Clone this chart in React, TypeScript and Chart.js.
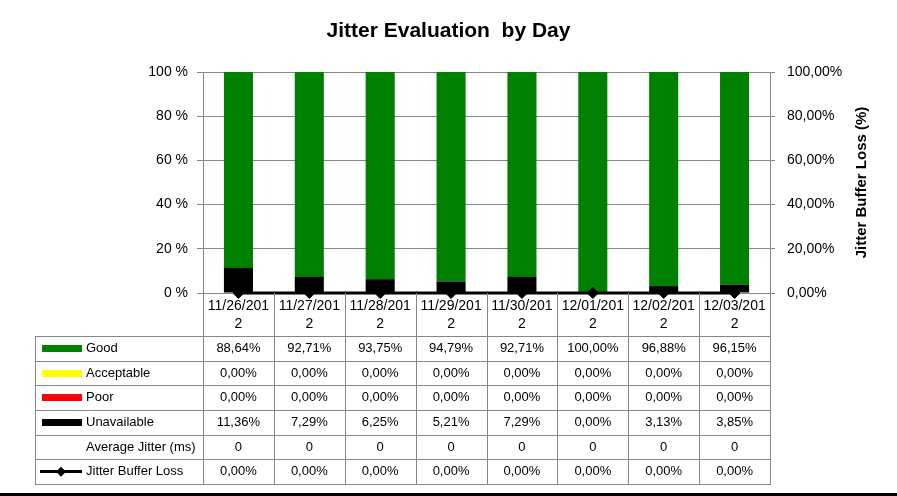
import { useEffect, useRef } from 'react';
import { Chart, registerables } from 'chart.js';

Chart.register(...registerables);

const FONT = "'Liberation Sans', Arial, sans-serif";

const categories = ['11/26/2012', '11/27/2012', '11/28/2012', '11/29/2012', '11/30/2012', '12/01/2012', '12/02/2012', '12/03/2012'];
const good = [88.64, 92.71, 93.75, 94.79, 92.71, 100.0, 96.88, 96.15];
const acceptable = [0, 0, 0, 0, 0, 0, 0, 0];
const poor = [0, 0, 0, 0, 0, 0, 0, 0];
const unavailable = [11.36, 7.29, 6.25, 5.21, 7.29, 0.0, 3.13, 3.85];
const averageJitter = [0, 0, 0, 0, 0, 0, 0, 0];
const jitterBufferLoss = [0, 0, 0, 0, 0, 0, 0, 0];

const COLORS = {
  good: '#008000',
  acceptable: '#FFFF00',
  poor: '#FF0000',
  unavailable: '#000000',
  line: '#000000',
  grid: '#868686',
};

const pct = (v: number) => v.toFixed(2).replace('.', ',') + '%';

type Row = { label: string; values: number[]; key: 'box' | 'line' | 'none'; color: string; fmt: (v: number) => string };

const rows: Row[] = [
  { label: 'Good', values: good, key: 'box', color: COLORS.good, fmt: pct },
  { label: 'Acceptable', values: acceptable, key: 'box', color: COLORS.acceptable, fmt: pct },
  { label: 'Poor', values: poor, key: 'box', color: COLORS.poor, fmt: pct },
  { label: 'Unavailable', values: unavailable, key: 'box', color: COLORS.unavailable, fmt: pct },
  { label: 'Average Jitter (ms)', values: averageJitter, key: 'none', color: '#000', fmt: (v) => String(v) },
  { label: 'Jitter Buffer Loss', values: jitterBufferLoss, key: 'line', color: COLORS.line, fmt: pct },
];

const tablePlugin = {
  id: 'dataTable',
  afterDraw(chart: any) {
    const ctx: CanvasRenderingContext2D = chart.ctx;
    const area = chart.chartArea;
    const xs = chart.scales.x;
    const n = categories.length;
    const colW = (area.right - area.left) / n;
    const tableTop = xs.bottom;
    const tableBottom = chart.height - 12;
    const tableLeft = 35;
    const rowH = (tableBottom - tableTop) / rows.length;

    ctx.save();
    ctx.strokeStyle = COLORS.grid;
    ctx.lineWidth = 1;
    ctx.beginPath();
    // vertical lines (header + body)
    for (let i = 0; i <= n; i++) {
      const x = Math.round(area.left + i * colW) + 0.5;
      ctx.moveTo(x, area.bottom);
      ctx.lineTo(x, tableBottom);
    }
    // left outer border
    ctx.moveTo(tableLeft + 0.5, tableTop);
    ctx.lineTo(tableLeft + 0.5, tableBottom);
    // horizontal lines
    for (let r = 0; r <= rows.length; r++) {
      const y = Math.round(tableTop + r * rowH) + 0.5;
      ctx.moveTo(tableLeft, y);
      ctx.lineTo(Math.round(area.right) + 1, y);
    }
    ctx.stroke();

    ctx.font = `13px ${FONT}`;
    ctx.textBaseline = 'middle';
    rows.forEach((row, r) => {
      const cy = tableTop + r * rowH + rowH / 2;
      // key
      if (row.key === 'box') {
        ctx.fillStyle = row.color;
        ctx.fillRect(42, Math.round(cy - 3.5), 40, 7);
      } else if (row.key === 'line') {
        ctx.fillStyle = row.color;
        ctx.fillRect(40, Math.round(cy - 1.5), 42, 3);
        ctx.beginPath();
        ctx.moveTo(61, cy - 5);
        ctx.lineTo(66, cy);
        ctx.lineTo(61, cy + 5);
        ctx.lineTo(56, cy);
        ctx.closePath();
        ctx.fill();
      }
      ctx.fillStyle = '#000';
      ctx.textAlign = 'left';
      ctx.fillText(row.label, 86, cy);
      ctx.textAlign = 'center';
      row.values.forEach((v, i) => {
        const cx = xs.getPixelForValue(i);
        ctx.fillText(row.fmt(v), cx, cy);
      });
    });

    // right axis title
    ctx.font = `bold 15px ${FONT}`;
    ctx.fillStyle = '#000';
    ctx.textAlign = 'center';
    ctx.textBaseline = 'middle';
    ctx.translate(862, (area.top + area.bottom) / 2);
    ctx.rotate(-Math.PI / 2);
    ctx.fillText('Jitter Buffer Loss (%)', 0, 0);
    ctx.restore();

    // bottom border
    ctx.save();
    ctx.fillStyle = '#000';
    ctx.fillRect(0, chart.height - 3, chart.width, 3);
    ctx.restore();
  },
};

export default function App() {
  const ref = useRef<HTMLCanvasElement | null>(null);

  useEffect(() => {
    if (!ref.current) return;
    const barCommon = { barPercentage: 0.41, categoryPercentage: 1, borderWidth: 0, order: 1, yAxisID: 'y' };
    const chart = new Chart(ref.current, {
      type: 'bar',
      data: {
        labels: categories.map((c) => [c.slice(0, 9), c.slice(9)]),
        datasets: [
          { ...barCommon, label: 'Unavailable', data: unavailable, backgroundColor: COLORS.unavailable },
          { ...barCommon, label: 'Poor', data: poor, backgroundColor: COLORS.poor },
          { ...barCommon, label: 'Acceptable', data: acceptable, backgroundColor: COLORS.acceptable },
          { ...barCommon, label: 'Good', data: good, backgroundColor: COLORS.good },
          {
            type: 'line',
            label: 'Jitter Buffer Loss',
            data: jitterBufferLoss,
            yAxisID: 'y1',
            order: 0,
            borderColor: COLORS.line,
            backgroundColor: COLORS.line,
            borderWidth: 3,
            pointStyle: 'rectRot',
            pointRadius: 5.5,
            pointBorderWidth: 1,
            pointBackgroundColor: COLORS.line,
            clip: false,
          } as any,
        ],
      },
      options: {
        responsive: false,
        animation: false,
        layout: { padding: { left: 0, right: 0, top: 0, bottom: 160 } },
        plugins: {
          legend: { display: false },
          tooltip: { enabled: false },
          title: {
            display: true,
            text: 'Jitter Evaluation  by Day',
            color: '#000',
            font: { family: FONT, size: 21, weight: 'bold', lineHeight: 1.2 },
            padding: { top: 18.4, bottom: 28.4 },
          },
        },
        scales: {
          x: {
            stacked: true,
            grid: { display: true, drawOnChartArea: false, drawTicks: false },
            border: { display: true, color: COLORS.grid },
            ticks: {
              color: '#000',
              font: { family: FONT, size: 14, lineHeight: 1.29 },
              padding: 4,
              maxRotation: 0,
              minRotation: 0,
              autoSkip: false,
            },
            afterFit: (s: any) => {
              s.height = 43;
            },
          },
          y: {
            stacked: true,
            position: 'left',
            min: 0,
            max: 100,
            ticks: {
              stepSize: 20,
              color: '#000',
              font: { family: FONT, size: 14 },
              padding: 9,
              callback: (v: any) => `${v} %`,
            },
            grid: { color: COLORS.grid, tickLength: 6, drawTicks: true },
            border: { display: true, color: COLORS.grid },
            afterFit: (s: any) => {
              s.width = 203;
            },
          },
          y1: {
            position: 'right',
            min: 0,
            max: 100,
            ticks: {
              stepSize: 20,
              color: '#000',
              font: { family: FONT, size: 14 },
              padding: 12,
              callback: (v: any) => pct(Number(v)),
            },
            grid: { drawOnChartArea: false, color: COLORS.grid, tickLength: 5, drawTicks: true },
            border: { display: true, color: COLORS.grid },
            afterFit: (s: any) => {
              s.width = 127;
            },
          },
        },
      },
      plugins: [tablePlugin],
    });
    return () => chart.destroy();
  }, []);

  return (
    <div style={{ position: 'fixed', left: 0, top: 0, width: 897, height: 496, background: '#fff' }}>
      <canvas ref={ref} width={897} height={496} style={{ display: 'block' }} />
    </div>
  );
}
